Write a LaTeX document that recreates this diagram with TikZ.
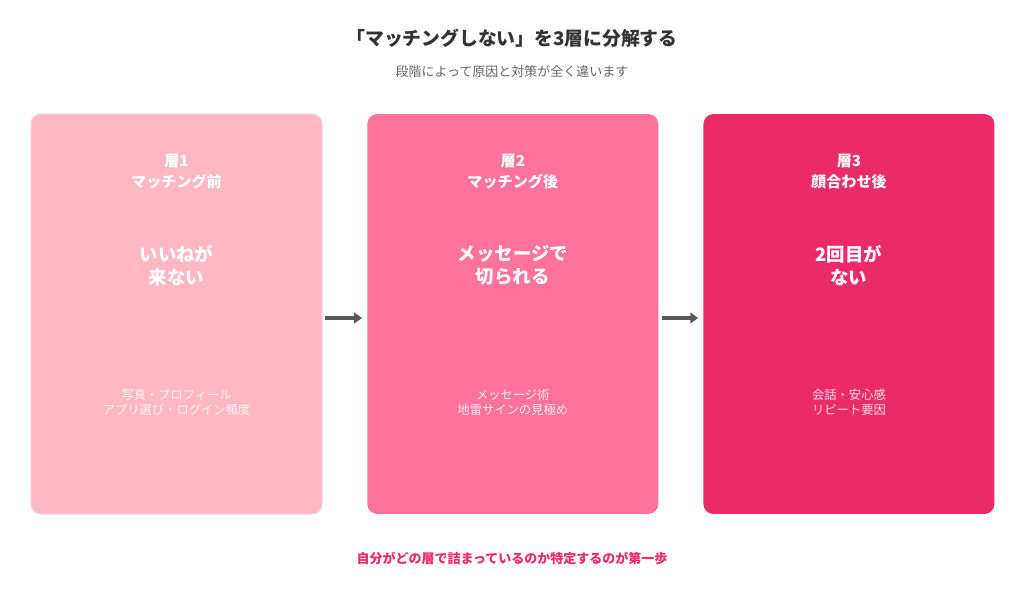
\documentclass[tikz,border=0pt]{standalone}
\usepackage{fontspec}
\setmainfont{Noto Sans CJK JP}
\usetikzlibrary{positioning, arrows.meta}

\definecolor{pinkA}{HTML}{FFB7C2}
\definecolor{pinkB}{HTML}{FF729C}
\definecolor{pinkC}{HTML}{EA2A69}
\definecolor{titlegray}{HTML}{333333}
\definecolor{subgray}{HTML}{666666}
\definecolor{arrowgray}{HTML}{595959}

\begin{document}
\begin{tikzpicture}[x=0.02cm, y=-0.02cm, node distance=0.89cm,
    layerbox/.style={rounded corners=0.2cm, minimum width=5.82cm, minimum height=8cm, inner sep=0pt},
    stagetext/.style={text=white, font=\bfseries\fontsize{8.6}{11.9}\selectfont, align=center},
    issuetext/.style={text=white, font=\bfseries\fontsize{10.5}{13}\selectfont, align=center},
    pointtext/.style={text=white, text opacity=0.85, font=\fontsize{7}{8.5}\selectfont, align=center},
    flow/.style={draw=arrowgray, line width=1.9pt, -{Triangle[length=4.5pt, width=6pt]}, shorten <=1.7pt, shorten >=2.8pt}]
    \useasboundingbox (0,0) rectangle (1024,593);

    % Title
    \node[text=titlegray, font=\bfseries\fontsize{10.7}{13}\selectfont] (title) at (512,38) {「マッチングしない」を3層に分解する};
    \node[text=subgray, font=\fontsize{7.4}{9}\selectfont] (subtitle) at (512,72) {段階によって原因と対策が全く違います};

    % Layers
    \node[layerbox, fill=pinkA, draw=pinkA!70!white, line width=0.6pt] (L1) at (176.5,314) {};
    \node[layerbox, fill=pinkB, right=of L1] (L2) {};
    \node[layerbox, fill=pinkC, right=of L2] (L3) {};

    % Texts
    \node[stagetext, yshift=-1.16cm] (s1) at (L1.north) {層1\\マッチング前};
    \node[stagetext, yshift=-1.16cm] (s2) at (L2.north) {層2\\マッチング後};
    \node[stagetext, yshift=-1.16cm] (s3) at (L3.north) {層3\\顔合わせ後};

    \node[issuetext, yshift=-3.04cm] (i1) at (L1.north) {いいねが\\来ない};
    \node[issuetext, yshift=-3.04cm] (i2) at (L2.north) {メッセージで\\切られる};
    \node[issuetext, yshift=-3.04cm] (i3) at (L3.north) {2回目が\\ない};

    \node[pointtext, yshift=-5.78cm] (p1) at (L1.north) {写真・プロフィール\\アプリ選び・ログイン頻度};
    \node[pointtext, yshift=-5.78cm] (p2) at (L2.north) {メッセージ術\\地雷サインの見極め};
    \node[pointtext, yshift=-5.78cm] (p3) at (L3.north) {会話・安心感\\リピート要因};

    % Arrows
    \draw[flow] ([yshift=-0.08cm]L1.east) -- ([yshift=-0.08cm]L2.west);
    \draw[flow] ([yshift=-0.08cm]L2.east) -- ([yshift=-0.08cm]L3.west);

    % Footer
    \node[text=pinkC, font=\bfseries\fontsize{7.4}{9}\selectfont] (footer) at (512,558) {自分がどの層で詰まっているのか特定するのが第一歩};
\end{tikzpicture}
\end{document}
